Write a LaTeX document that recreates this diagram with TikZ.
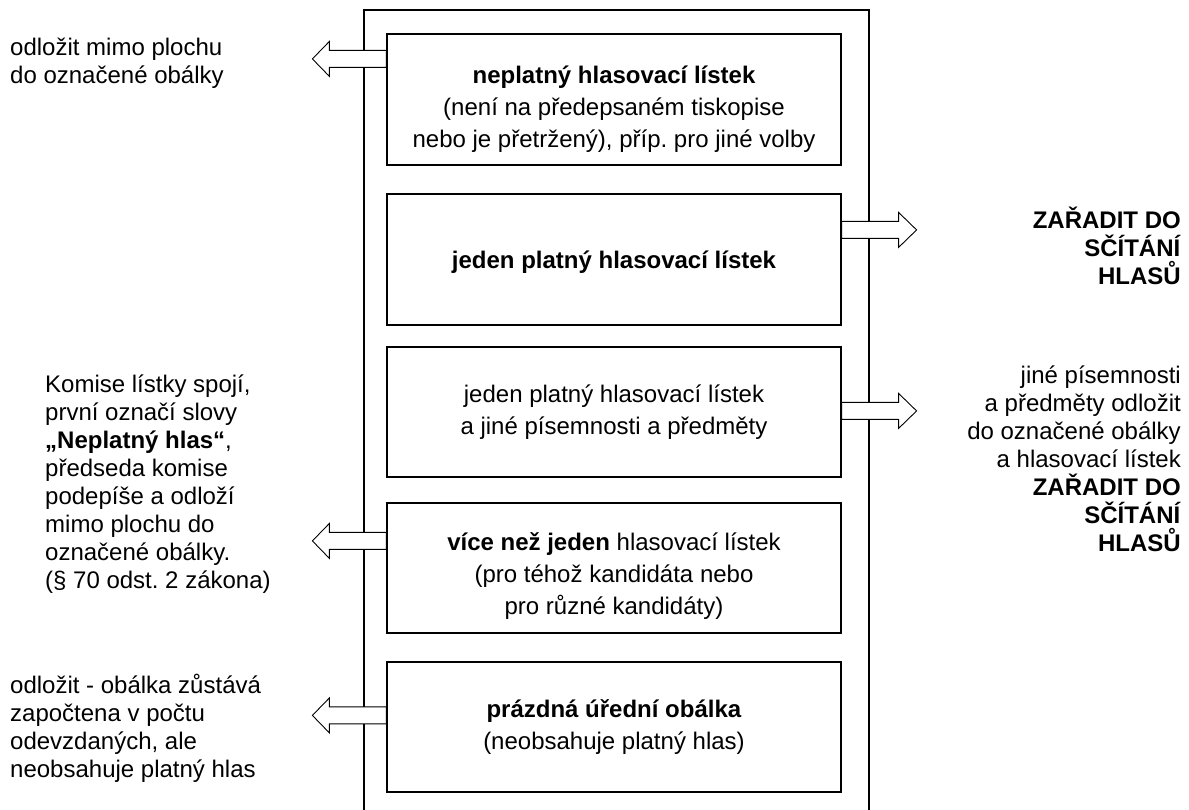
\documentclass[tikz,border=0pt]{standalone}
\usepackage{fontspec}
\setmainfont{Liberation Sans}
\frenchspacing
\usetikzlibrary{calc}
\pgfdeclarelayer{background}
\pgfsetlayers{background,main}
\begin{document}
\begin{tikzpicture}[x=1pt,y=-1pt,
  box/.style={draw=black, line width=1.2pt, minimum width=454pt, inner sep=0pt},
  boxtext/.style={align=center, font=\fontsize{24}{32}\selectfont, inner sep=0pt},
  sidetext/.style={font=\fontsize{24}{28}\selectfont, inner sep=0pt},
  outerframe/.style={draw=black, line width=2pt},
  blockarr/.style={draw=black, fill=white, line width=0.9pt, line join=miter}]
\useasboundingbox (0,0) rectangle (1189,809);

% boxes
\node[box, minimum height=131pt] (b1) at (614,99.5) {};
\node[box, minimum height=131pt] (b2) at (614,259.5) {};
\node[box, minimum height=130pt] (b3) at (614,412) {};
\node[box, minimum height=130pt] (b4) at (614,568) {};
\node[box, minimum height=130pt] (b5) at (614,727) {};

% box texts
\node[boxtext] (t1) at (614,109.5) {\textbf{neplatný hlasovací lístek}\\(není na předepsaném tiskopise\\nebo je přetržený), příp. pro jiné volby};
\node[boxtext] (t2) at (614,262) {\textbf{jeden platný hlasovací lístek}};
\node[boxtext] (t3) at (614,412) {jeden platný hlasovací lístek\\a jiné písemnosti a předměty};
\node[boxtext] (t4) at (614,576.5) {\textbf{více než jeden} hlasovací lístek\\(pro téhož kandidáta nebo\\pro různé kandidáty)};
\node[boxtext] (t5) at (614,727.5) {\textbf{prázdná úřední obálka}\\(neobsahuje platný hlas)};

% side texts
\node[sidetext, align=left, anchor=west] (l1) at (10,63) {odložit mimo plochu\\do označené obálky};
\node[sidetext, align=left, anchor=west] (l2) at (45,484) {Komise lístky spojí,\\první označí slovy\\\textbf{„Neplatný hlas“},\\předseda komise\\podepíše a odloží\\mimo plochu do\\označené obálky.\\(§ 70 odst. 2 zákona)};
\node[sidetext, align=left, anchor=west] (l3) at (10,728) {odložit - obálka zůstává\\započtena v počtu\\odevzdaných, ale\\neobsahuje platný hlas};
\node[sidetext, align=right, anchor=east] (r1) at (1181,246) {\textbf{ZAŘADIT DO}\\\textbf{SČÍTÁNÍ}\\\textbf{HLASŮ}};
\node[sidetext, align=right, anchor=east] (r2) at (1181,459) {jiné písemnosti\\a předměty odložit\\do označené obálky\\a hlasovací lístek\\\textbf{ZAŘADIT DO}\\\textbf{SČÍTÁNÍ}\\\textbf{HLASŮ}};

\begin{pgfonlayer}{background}
\draw[outerframe] (364,820) -- (364,10) -- (869,10) -- (869,820);
% left arrows
\draw[blockarr] ($(b1.north west)+(0,17)$) -- ++(-57,0) -- ++(0,-9) -- ++(-17,17.5) -- ++(17,17.5) -- ++(0,-9) -- ++(57,0) -- cycle;
\draw[blockarr] ($(b4.north west)+(0,30)$) -- ++(-57,0) -- ++(0,-9) -- ++(-17,17.5) -- ++(17,17.5) -- ++(0,-9) -- ++(57,0) -- cycle;
\draw[blockarr] ($(b5.north west)+(0,45.5)$) -- ++(-57,0) -- ++(0,-9) -- ++(-17,17.5) -- ++(17,17.5) -- ++(0,-9) -- ++(57,0) -- cycle;
% right arrows
\draw[blockarr] ($(b2.north east)+(0,28)$) -- ++(57,0) -- ++(0,-9) -- ++(18,17.5) -- ++(-18,17.5) -- ++(0,-9) -- ++(-57,0) -- cycle;
\draw[blockarr] ($(b3.north east)+(0,56)$) -- ++(57,0) -- ++(0,-9) -- ++(18,17.5) -- ++(-18,17.5) -- ++(0,-9) -- ++(-57,0) -- cycle;
\end{pgfonlayer}
\end{tikzpicture}
\end{document}
